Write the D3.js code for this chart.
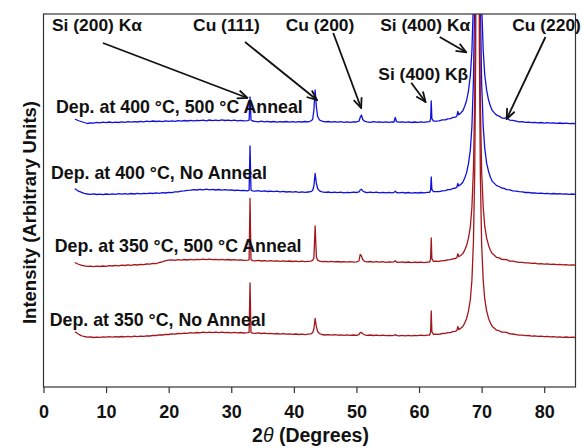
<!DOCTYPE html>
<html>
<head>
<meta charset="utf-8">
<script src="https://cdn.jsdelivr.net/npm/d3@7"></script>
<style>
  html, body { margin: 0; padding: 0; background: #fff; }
  svg { display: block; }
  text { font-family: "Liberation Sans", Arial, sans-serif; font-weight: bold; fill: #111; }
</style>
</head>
<body>
<svg id="chart" width="582" height="448"></svg>
<script>
"use strict";

// 2-theta grid (degrees), finer where the peaks are
const twoTheta = [
  5.0, 5.5, 6.0, 6.5, 7.0, 7.5, 8.0, 8.5, 9.0, 9.5,
  10.0, 10.5, 11.0, 11.5, 12.0, 12.5, 13.0, 13.5, 14.0, 14.5,
  15.0, 15.5, 16.0, 16.5, 17.0, 17.5, 18.0, 18.5, 19.0, 19.5,
  20.0, 20.5, 21.0, 21.5, 22.0, 22.5, 23.0, 23.5, 24.0, 24.5,
  25.0, 25.5, 26.0, 26.5, 27.0, 27.5, 28.0, 28.5, 29.0, 29.5,
  30.0, 30.5, 31.0, 31.5, 32.0, 32.6, 32.85, 33.0, 33.15, 33.4,
  33.8, 34.3, 34.8, 35.3, 35.8, 36.3, 36.8, 37.3, 37.8, 38.3,
  38.8, 39.3, 39.8, 40.3, 40.8, 41.3, 41.8, 42.3, 42.7, 43.0,
  43.2, 43.4, 43.6, 43.8, 44.1, 44.5, 45.0, 45.5, 46.0, 46.5,
  47.0, 47.5, 48.0, 48.5, 49.0, 49.5, 50.0, 50.4, 50.6, 50.8,
  51.0, 51.3, 51.7, 52.2, 52.7, 53.2, 53.7, 54.2, 54.7, 55.2,
  55.7, 56.0, 56.2, 56.4, 56.8, 57.3, 57.8, 58.3, 58.8, 59.3,
  59.8, 60.3, 60.8, 61.3, 61.7, 61.85, 61.95, 62.05, 62.3, 62.7,
  63.2, 63.7, 64.2, 64.6, 65.0, 65.4, 65.8, 66.05, 66.2, 66.35,
  66.7, 67.0, 67.3, 67.6, 67.9, 68.2, 68.45, 68.7, 68.9, 69.05,
  69.2, 69.35, 69.5, 69.65, 69.8, 70.0, 70.25, 70.5, 70.8, 71.1,
  71.4, 71.7, 72.0, 72.4, 72.8, 73.2, 73.6, 74.0, 74.5, 75.0,
  75.5, 76.0, 76.5, 77.0, 77.5, 78.0, 78.5, 79.0, 79.5, 80.0,
  80.5, 81.0, 81.5, 82.0, 82.5, 83.0, 83.5, 84.0, 84.5, 85.0
];

// intensities (arbitrary units, already stacked with offsets)
const dep400Anneal500 = [
  268, 266.5, 265.5, 264.5, 263.5, 264.2, 263.8, 264.6, 264.1, 264.8,
  264.3, 265, 264.4, 264.9, 264.5, 265.2, 264.7, 265.4, 264.9, 265.3,
  265, 265.7, 265.2, 265.8, 265.3, 266, 265.5, 265.9, 265.4, 266.1,
  265.6, 266.2, 265.7, 266.3, 265.9, 266.5, 266, 266.6, 266.1, 266.7,
  266.3, 266.8, 266.2, 267, 266.4, 266.9, 266.3, 267.1, 266.5, 266.9,
  266.4, 266.8, 266.2, 266.7, 266.1, 266.4, 266.8, 290, 267, 266,
  265.6, 265.2, 265.8, 265.1, 265.6, 265, 265.5, 264.9, 265.4, 265,
  265.5, 264.9, 265.3, 264.8, 265.4, 265, 265.5, 265.2, 266, 267.5,
  277, 297, 280, 270.5, 267, 265.8, 265.1, 265.5, 264.9, 265.3,
  264.8, 265.3, 264.7, 265.2, 264.6, 265.1, 265, 265.8, 269.5, 272,
  267.5, 265.8, 265.2, 264.7, 265.3, 264.8, 265.2, 264.6, 265.1, 264.7,
  265.2, 265, 269.5, 265.3, 264.8, 265.2, 264.6, 265.1, 264.5, 265,
  264.6, 265.1, 264.7, 265.2, 265.3, 268, 286, 268.5, 265.8, 265.8,
  266.2, 267.2, 267.1, 268.2, 268.3, 269.5, 269.8, 271, 275.5, 272.2,
  274.3, 276.2, 280.8, 286.5, 296.2, 311.5, 336, 388, 479, 629,
  940, 1430, 940, 628, 472, 383.5, 337, 312, 296.8, 287.2,
  280.9, 276.5, 274.4, 271.8, 270.9, 269.2, 268.7, 269.5, 266.8, 266.6,
  265.9, 265.2, 265.3, 264.7, 264.9, 264.4, 264.7, 264.2, 264.5, 263.9,
  264.3, 263.8, 264.2, 263.6, 264, 263.5, 263.9, 263.4, 263.7, 263.3
];

const dep400NoAnneal = [
  198.3, 196.2, 194.8, 193.6, 193, 192.6, 193.1, 192.5, 192.9, 192.4,
  193, 192.6, 193.2, 192.7, 193.3, 192.8, 193.4, 192.9, 193.5, 193,
  193.6, 193.1, 193.7, 193.3, 193.9, 193.5, 194.1, 193.6, 194.3, 194,
  194.7, 194.4, 195.2, 195.1, 195.9, 196.2, 196.6, 196.8, 197.3, 197,
  197.6, 197.2, 197.8, 197.1, 197.6, 197, 197.5, 196.9, 197.3, 196.8,
  197.1, 196.5, 196.9, 196.3, 196.7, 196.2, 196.8, 241, 197, 196.1,
  195.8, 196.3, 195.7, 196.1, 195.5, 195.9, 195.3, 195.8, 195.2, 195.6,
  195, 195.4, 194.8, 195.3, 194.7, 195.1, 194.6, 195, 195.3, 196.5,
  201, 213.5, 203.5, 198.5, 196.2, 195.1, 194.6, 195, 194.4, 194.9,
  194.3, 194.8, 194.2, 194.7, 194.3, 194.8, 194.5, 195.2, 197, 197.8,
  196, 195, 194.4, 194.9, 194.3, 194.8, 194.2, 194.7, 194.1, 194.6,
  194.2, 194.6, 195.8, 194.5, 194.1, 194.6, 194, 194.5, 193.9, 194.4,
  194, 194.5, 194.1, 194.6, 194.7, 197, 210, 197.5, 195.3, 195.4,
  195.4, 196.2, 196.4, 197.3, 197.4, 198.5, 198.8, 199.9, 203.5, 201,
  202.8, 204.8, 208.9, 214.4, 223.3, 237.2, 260.5, 308, 392, 530,
  818, 1274, 818, 530, 386, 304.5, 261, 238.6, 223.8, 215.8,
  209.8, 205.7, 203.9, 201.4, 200.5, 199, 198.6, 197.4, 197.2, 196.1,
  195.8, 195.3, 195.1, 194.5, 194.6, 194, 194.2, 193.7, 193.9, 193.4,
  193.7, 193.2, 193.5, 193, 193.3, 192.8, 193.1, 192.7, 193, 192.6
];

const dep350Anneal500 = [
  124.5, 123, 121.8, 121.2, 120.6, 120.9, 120.3, 120.8, 120.5, 121,
  120.7, 121.3, 121, 121.6, 121.2, 121.8, 121.5, 122.1, 121.7, 122.3,
  122, 122.6, 122.3, 123, 122.8, 123.6, 123.4, 124.5, 125.2, 126.3,
  126.8, 127.1, 126.7, 127.3, 126.9, 127.5, 127, 127.6, 127.2, 127.7,
  127.3, 127.8, 127.4, 127.9, 127.3, 127.7, 127.2, 127.6, 127.1, 127.5,
  127, 127.3, 126.8, 127.1, 126.6, 126.9, 127.2, 188.5, 127.5, 126.4,
  126.2, 126.6, 126, 126.4, 125.9, 126.3, 125.8, 126.2, 125.7, 126.1,
  125.6, 126, 125.5, 125.9, 125.4, 125.8, 125.3, 125.7, 125.9, 126.6,
  129, 161, 130, 126.8, 125.9, 125.3, 125.7, 125.2, 125.6, 125.1,
  125.5, 125, 125.4, 124.9, 125.3, 124.8, 125.2, 126, 132.5, 131,
  127.5, 125.6, 125.1, 125.5, 124.9, 125.4, 124.8, 125.3, 124.7, 125.2,
  124.8, 125.2, 126.4, 125, 124.6, 125.1, 124.5, 125, 124.4, 124.9,
  124.5, 124.9, 124.4, 124.8, 125, 128, 149, 128.5, 125.6, 125.8,
  125.6, 126.4, 126.5, 127.2, 127.3, 128.2, 128.5, 129.4, 133.4, 130.3,
  131.8, 133.4, 136.9, 141.4, 148.8, 160.4, 179.8, 219.5, 289.6, 404.6,
  644, 1024, 644, 404, 284, 216.2, 180.3, 160.8, 149.2, 141.8,
  136.8, 133.4, 131.9, 129.6, 129.1, 127.6, 127.5, 127.4, 125.9, 125.8,
  125.2, 124.6, 124.7, 124.1, 124.2, 123.6, 123.8, 123.2, 123.4, 122.9,
  123.1, 122.6, 122.9, 122.3, 122.6, 122.1, 122.4, 121.9, 122.2, 121.8
];

const dep350NoAnneal = [
  55.3, 53.2, 51.4, 50.5, 49.8, 50.1, 49.5, 49.9, 49.6, 50.1,
  49.8, 50.3, 49.9, 50.4, 50, 50.5, 50.1, 50.6, 50.2, 50.8,
  50.4, 50.9, 50.6, 51.2, 51, 51.6, 51.5, 52.1, 52, 52.6,
  52.5, 53.1, 52.9, 53.5, 53.3, 53.9, 53.6, 54.3, 53.9, 54.5,
  54.2, 54.8, 54.3, 54.9, 54.4, 54.8, 54.3, 54.9, 54.4, 54.7,
  54.2, 54.6, 54.1, 54.5, 54, 54.3, 54.7, 104, 54.6, 53.9,
  53.7, 54.1, 53.5, 53.9, 53.3, 53.7, 53.1, 53.5, 52.9, 53.3,
  52.8, 53.2, 52.6, 53, 52.5, 52.9, 52.4, 52.8, 53.1, 54.3,
  58, 68.5, 60.2, 55.5, 53.4, 52.5, 52, 52.4, 51.9, 52.3,
  51.8, 52.2, 51.7, 52.1, 51.6, 52, 51.7, 52.3, 54.3, 54.6,
  53.3, 52.2, 51.6, 52, 51.5, 51.9, 51.4, 51.8, 51.3, 51.7,
  51.3, 51.7, 52.4, 51.6, 51.2, 51.6, 51.1, 51.6, 51.2, 51.7,
  51.3, 51.8, 51.4, 51.9, 52, 55, 76, 55.5, 52.6, 52.8,
  52.7, 53.5, 53.6, 54.3, 54.4, 55.3, 55.6, 56.5, 60.5, 57.4,
  58.9, 60.5, 63.9, 68.5, 75.9, 87.5, 106.9, 146.5, 216.7, 331.7,
  571, 951, 571, 331, 211, 143.2, 107.3, 87.8, 76.2, 68.8,
  64, 60.6, 59.1, 56.8, 56.3, 54.9, 54.8, 54.6, 53.1, 53,
  52.4, 51.8, 51.9, 51.3, 51.5, 50.9, 51.1, 50.6, 50.8, 50.3,
  50.6, 50.1, 50.4, 49.9, 50.2, 49.7, 50, 49.6, 49.9, 49.5
];

const seriesLabels = [
  "Dep. at 400 °C, 500 °C Anneal",
  "Dep. at 400 °C, No Anneal",
  "Dep. at 350 °C, 500 °C Anneal",
  "Dep. at 350 °C, No Anneal"
];
// where each series label sits: [2theta, intensity]
const seriesLabelPos = [[2.0, 273.7], [1.2, 207.7], [1.8, 135.3], [1.0, 61.3]];

const xTicks = [0, 10, 20, 30, 40, 50, 60, 70, 80];

// peak annotations: label anchor, arrow tail, arrow head (all in data units)
const peakLabels = ["Si (200) K\u03b1", "Cu (111)", "Cu (200)", "Si (400) K\u03b1", "Si (400) K\u03b2", "Cu (220)"];
const peakLabelPos = [[1.36, 356], [23.9, 356], [38.7, 356], [53.8, 356], [53.5, 307], [74.9, 356]];
const arrowFrom = [[9.5, 344], [32.2, 345], [46.3, 354], [63.3, 350], [58.75, 304.3], [80.2, 350]];
const arrowTo = [[32.6, 289], [43.7, 287], [50.75, 279], [67.55, 334.7], [61.04, 285], [74.0, 268]];

const svg = d3.select("#chart");
const margin = {left: 43.5, right: 6.5, top: 14, bottom: 61};
const W = 582, H = 448;

const x = d3.scaleLinear().domain([0, 85]).range([margin.left, W - margin.right]);
const y = d3.scaleLinear().domain([0, 373]).range([H - margin.bottom, margin.top]);

svg.append("defs").append("clipPath").attr("id", "plotClip")
  .append("rect")
  .attr("x", x(0)).attr("y", y(373))
  .attr("width", x(85) - x(0)).attr("height", y(0) - y(373));

const marker = svg.select("defs").append("marker")
  .attr("id", "arrowHead")
  .attr("viewBox", "0 0 12 10")
  .attr("refX", 11).attr("refY", 5)
  .attr("markerWidth", 12).attr("markerHeight", 10)
  .attr("markerUnits", "userSpaceOnUse")
  .attr("orient", "auto");
marker.append("path")
  .attr("d", "M1,0.8 L11,5 L1,9.2")
  .attr("fill", "none")
  .attr("stroke", "#111")
  .attr("stroke-width", 1.8);

// curves
const series = [
  {values: dep400Anneal500, color: "#1010dc"},
  {values: dep400NoAnneal, color: "#1010dc"},
  {values: dep350Anneal500, color: "#a3161b"},
  {values: dep350NoAnneal, color: "#a3161b"}
];

const line = d3.line()
  .x(d => x(d[0]))
  .y(d => y(d[1]));

const curves = svg.append("g").attr("clip-path", "url(#plotClip)");
series.forEach(function(s) {
  const n = Math.min(twoTheta.length, s.values.length);
  const pts = [];
  for (let i = 0; i < n; i++) pts.push([twoTheta[i], s.values[i]]);
  curves.append("path")
    .attr("d", line(pts))
    .attr("fill", "none")
    .attr("stroke", s.color)
    .attr("stroke-width", 1.3)
    .attr("stroke-linejoin", "round");
});

// frame
svg.append("rect")
  .attr("x", x(0)).attr("y", y(373))
  .attr("width", x(85) - x(0)).attr("height", y(0) - y(373))
  .attr("fill", "none")
  .attr("stroke", "#333")
  .attr("stroke-width", 1.2);

// x axis
const xAxis = svg.append("g")
  .attr("transform", "translate(0," + y(0) + ")")
  .call(d3.axisBottom(x).tickValues(xTicks).tickSize(6).tickSizeOuter(0).tickPadding(12));
xAxis.select(".domain").remove();
xAxis.selectAll(".tick line").attr("stroke", "#333").attr("stroke-width", 1.2);
xAxis.selectAll(".tick text")
  .attr("fill", "#111")
  .style("font-family", "'Liberation Sans', Arial, sans-serif")
  .style("font-weight", "bold")
  .style("font-size", "18px");

// axis titles
const xTitle = svg.append("text")
  .attr("x", (x(0) + x(85)) / 2 + 1)
  .attr("y", 442)
  .attr("text-anchor", "middle")
  .style("font-size", "19.5px");
xTitle.append("tspan").text("2");
xTitle.append("tspan").style("font-style", "italic").style("font-weight", "normal").text("\u03b8");
xTitle.append("tspan").text(" (Degrees)");

svg.append("text")
  .attr("transform", "translate(35.5," + ((y(0) + y(373)) / 2 + 12) + ") rotate(-90)")
  .attr("text-anchor", "middle")
  .style("font-size", "18.5px")
  .text("Intensity (Arbitrary Units)");

// series labels
svg.selectAll(".series-label")
  .data(seriesLabels)
  .enter().append("text")
  .attr("class", "series-label")
  .attr("x", (d, i) => x(seriesLabelPos[i][0]))
  .attr("y", (d, i) => y(seriesLabelPos[i][1]))
  .style("font-size", "17.8px")
  .text(d => d);

// arrows and peak labels
svg.selectAll(".peak-arrow")
  .data(peakLabels)
  .enter().append("line")
  .attr("class", "peak-arrow")
  .attr("x1", (d, i) => x(arrowFrom[i][0]))
  .attr("y1", (d, i) => y(arrowFrom[i][1]))
  .attr("x2", (d, i) => x(arrowTo[i][0]))
  .attr("y2", (d, i) => y(arrowTo[i][1]))
  .attr("stroke", "#111")
  .attr("stroke-width", 1.8)
  .attr("marker-end", "url(#arrowHead)");

svg.selectAll(".peak-label")
  .data(peakLabels)
  .enter().append("text")
  .attr("class", "peak-label")
  .attr("x", (d, i) => x(peakLabelPos[i][0]))
  .attr("y", (d, i) => y(peakLabelPos[i][1]))
  .style("font-size", "17.4px")
  .text(d => d);
</script>
</body>
</html>
